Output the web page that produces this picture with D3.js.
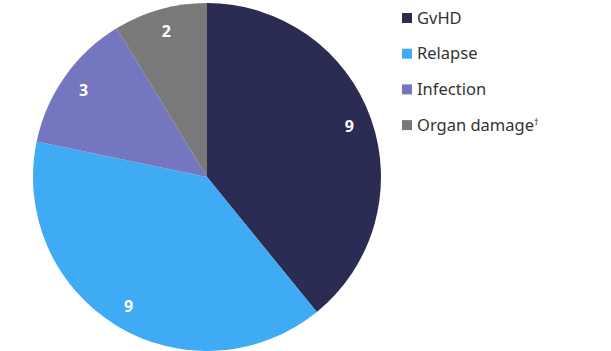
<!DOCTYPE html>
<html>
<head>
<meta charset="utf-8">
<script src="https://cdn.jsdelivr.net/npm/d3@7"></script>
<style>
  body { margin: 0; background: #fff; }
</style>
</head>
<body>
<div id="chart"></div>
<script>
const categories = ["GvHD", "Relapse", "Infection", "Organ damage"];
const values = [9, 9, 3, 2];
const colors = ["#2b2c54", "#3eabf4", "#7476bf", "#797979"];

const width = 611, height = 351;
const cx = 207, cy = 177, radius = 174;

const svg = d3.select("#chart").append("svg")
  .attr("width", width)
  .attr("height", height);

const data = categories.map((c, i) => ({ name: c, value: values[i], color: colors[i] }));

const pie = d3.pie().value(d => d.value).sort(null);
const arc = d3.arc().innerRadius(0).outerRadius(radius);
const labelArc = d3.arc().innerRadius(151).outerRadius(151);

const g = svg.append("g").attr("transform", `translate(${cx},${cy})`);

const arcs = pie(data);

g.selectAll("path")
  .data(arcs)
  .join("path")
  .attr("d", arc)
  .attr("fill", d => d.data.color);

g.selectAll("text")
  .data(arcs)
  .join("text")
  .attr("transform", d => `translate(${labelArc.centroid(d)})`)
  .attr("text-anchor", "middle")
  .attr("dy", "0.35em")
  .attr("fill", "#fff")
  .attr("font-family", "'Noto Sans', sans-serif")
  .attr("font-weight", "bold")
  .attr("font-size", "16px")
  .text(d => d.data.value);

// Legend
const legend = svg.append("g").attr("transform", "translate(402,18)");
const rowH = 35.7;

const rows = legend.selectAll("g")
  .data(data)
  .join("g")
  .attr("transform", (d, i) => `translate(0,${i * rowH})`);

rows.append("rect")
  .attr("x", 0).attr("y", -5)
  .attr("width", 10).attr("height", 10)
  .attr("fill", d => d.color);

const labels = rows.append("text")
  .attr("x", 15)
  .attr("dy", "0.35em")
  .attr("fill", "#333")
  .attr("font-family", "'Noto Sans', sans-serif")
  .attr("font-size", "16.5px")
  .text(d => d.name);

labels.filter(d => d.name === "Organ damage")
  .append("tspan")
  .attr("font-size", "9px")
  .attr("dy", "-0.6em")
  .text("†");
</script>
</body>
</html>
